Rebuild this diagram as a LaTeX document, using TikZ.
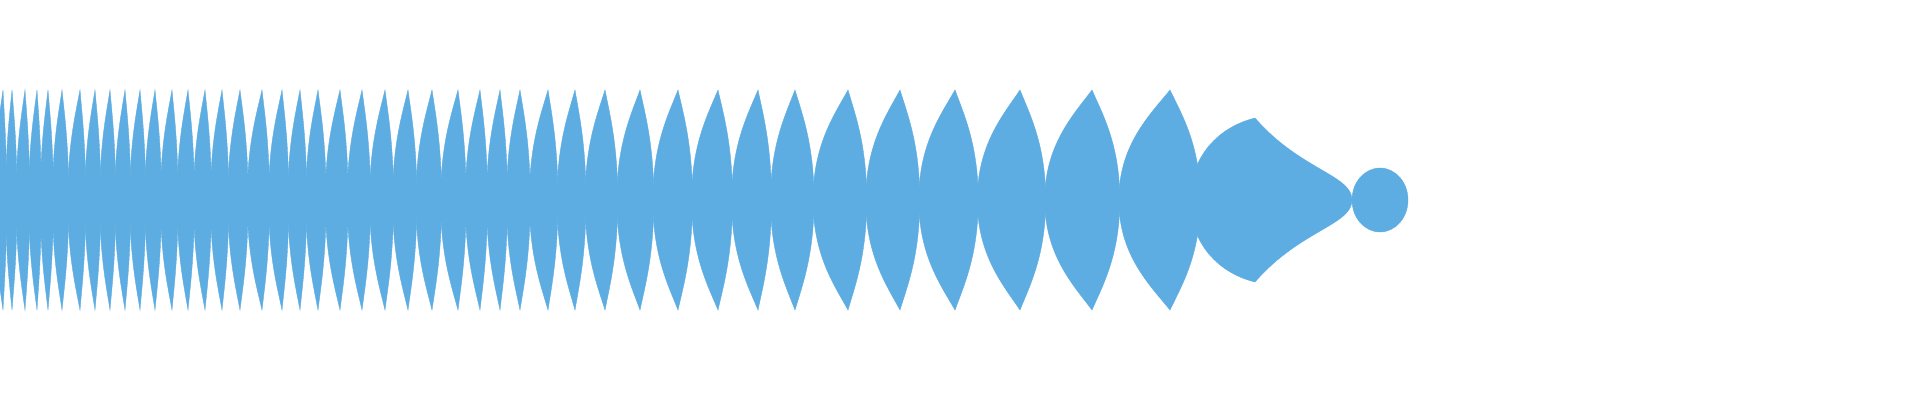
\documentclass[tikz,border=0pt]{standalone}
\definecolor{wave}{RGB}{93,173,226}
\tikzset{lobe/.style={fill=wave,draw=wave,line width=0.4pt}}
\begin{document}
\begin{tikzpicture}[x=1pt,y=-1pt]
\useasboundingbox (0,0) rectangle (1920,400);
\clip (0,0) rectangle (1920,400);
\foreach \a/\b/\c in {-10/3/12, 3/12/25, 12/25/37, 25/37/48, 37/48/62, 48/62/80, 62/80/95, 80/95/110, 95/110/125, 110/125/140, 125/140/155, 140/155/172, 155/172/188, 172/188/205, 188/205/222, 205/222/240, 222/240/262, 240/262/282, 262/282/300, 282/300/318, 300/318/340, 318/340/362, 340/362/385, 362/385/408, 385/408/432, 408/432/458, 432/458/480, 458/480/500, 480/500/520, 500/520/548, 520/548/575, 548/575/605, 575/605/640, 605/640/678, 640/678/718, 678/718/758, 718/758/795, 758/795/848, 795/848/900, 848/900/955, 900/955/1020, 955/1020/1092, 1020/1092/1170, 1092/1170/1255}{
  \pgfmathsetmacro{\l}{\a+0.35*(\b-\a)}
  \pgfmathsetmacro{\r}{\b+0.35*(\c-\b)}
  \pgfmathsetmacro{\wl}{0.4*(\b-\l)}
  \pgfmathsetmacro{\wr}{0.4*(\r-\b)}
  \fill[lobe] (\l-0.5,200) .. controls (\l-0.5,145) and (\b-\wl,115) .. (\b,90)
    .. controls (\b+\wr,115) and (\r+0.5,145) .. (\r+0.5,200)
    .. controls (\r+0.5,255) and (\b+\wr,285) .. (\b,310)
    .. controls (\b-\wl,285) and (\l-0.5,255) .. cycle;
}
\fill[lobe] (1190,200) .. controls (1190,160) and (1215,128) .. (1255,118)
  .. controls (1300,170) and (1352,175) .. (1352,200)
  .. controls (1352,225) and (1300,230) .. (1255,282)
  .. controls (1215,272) and (1190,240) .. cycle;
\fill[lobe] (1380,200) circle[x radius=28, y radius=32];
\end{tikzpicture}
\end{document}
